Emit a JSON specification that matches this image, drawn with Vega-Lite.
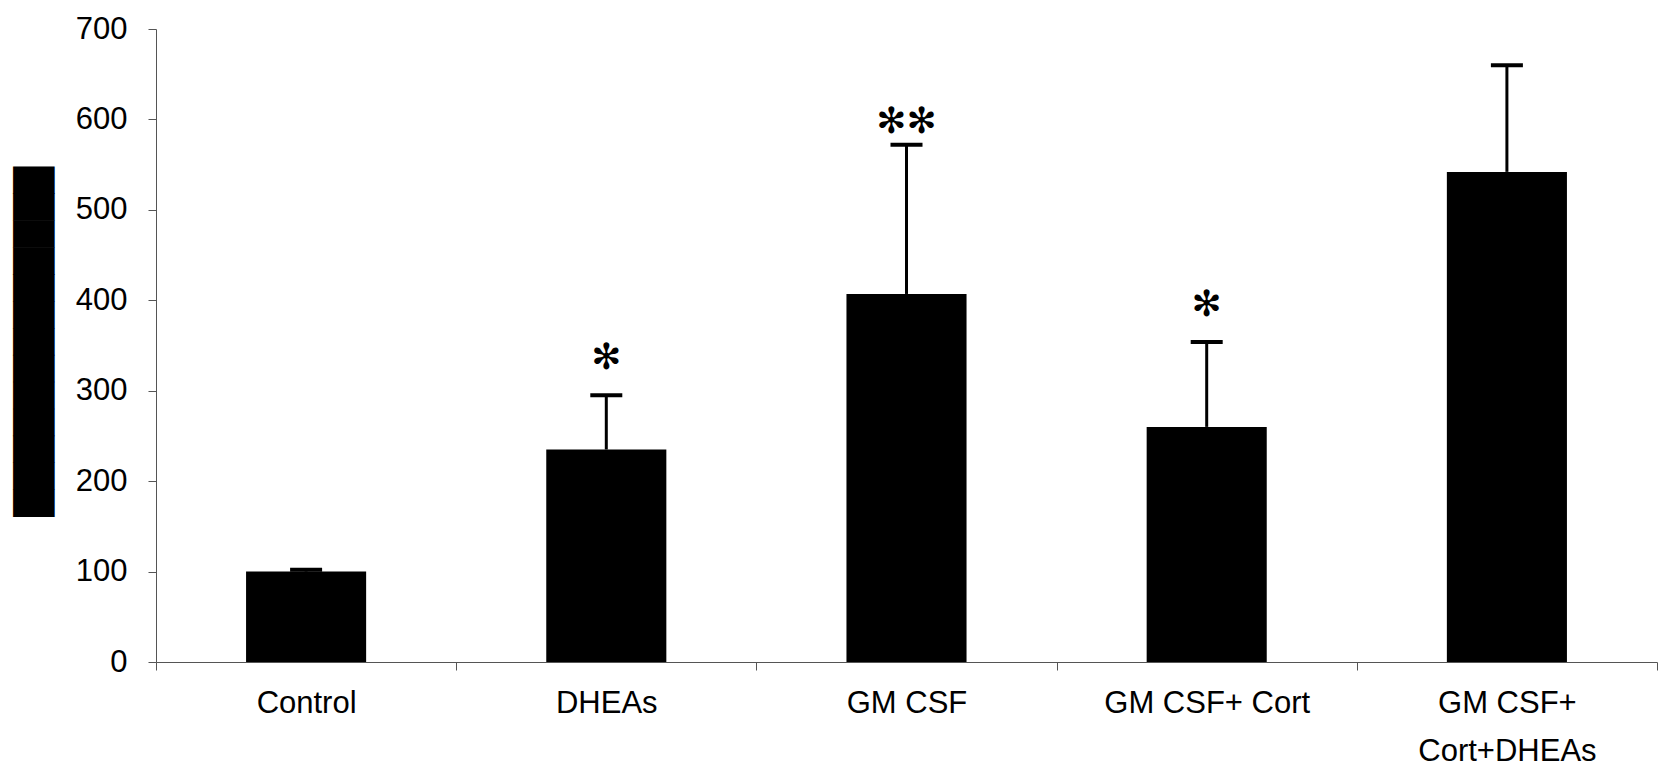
{
  "$schema": "https://vega.github.io/schema/vega-lite/v6.json",
  "autosize": {"type": "none"},
  "width": 1501,
  "height": 633,
  "padding": {"left": 156, "top": 29, "right": 3, "bottom": 110},
  "background": "white",
  "config": {
    "view": {"stroke": null},
    "font": "Liberation Sans"
  },
  "data": {
    "values": [
      {"group": "Control", "mean": 100, "err": 102, "sig": ""},
      {"group": "DHEAs", "mean": 235, "err": 295, "sig": "✻"},
      {"group": "GM CSF", "mean": 407, "err": 572, "sig": "✻✻"},
      {"group": "GM CSF+ Cort", "mean": 260, "err": 354, "sig": "✻"},
      {"group": "GM CSF+|Cort+DHEAs", "mean": 542, "err": 660, "sig": ""}
    ]
  },
  "encoding": {
    "x": {
      "field": "group",
      "type": "nominal",
      "sort": null,
      "scale": {"paddingInner": 0, "paddingOuter": 0},
      "axis": {
        "title": null,
        "labelAngle": 0,
        "labelFont": "Liberation Sans",
        "labelFontSize": 31,
        "labelColor": "black",
        "labelPadding": 18,
        "labelLineHeight": 48,
        "labelBaseline": "top",
        "labelLimit": 600,
        "labelExpr": "split(datum.label, '|')",
        "tickBand": "extent",
        "tickSize": 8,
        "tickColor": "#555",
        "domainColor": "#555",
        "domainWidth": 1,
        "tickWidth": 1
      }
    }
  },
  "layer": [
    {
      "mark": {"type": "bar", "color": "black", "width": {"band": 0.4}},
      "encoding": {
        "y": {
          "field": "mean",
          "type": "quantitative",
          "scale": {"domain": [0, 700], "nice": false},
          "axis": {
            "title": "█████████████",
            "titleFont": "DejaVu Sans",
            "titleFontSize": 35,
            "titleColor": "black",
            "titleBaseline": "middle",
            "titleX": -122,
            "titleY": 312,
            "titleLimit": 1000,
            "values": [0, 100, 200, 300, 400, 500, 600, 700],
            "grid": false,
            "labelFont": "Liberation Sans",
            "labelFontSize": 31,
            "labelColor": "black",
            "labelPadding": 21,
            "tickSize": 8,
            "tickColor": "#555",
            "domainColor": "#555",
            "domainWidth": 1,
            "tickWidth": 1
          }
        }
      }
    },
    {
      "mark": {"type": "rule", "color": "black", "strokeWidth": 3},
      "encoding": {
        "y": {"field": "mean", "type": "quantitative"},
        "y2": {"field": "err"}
      }
    },
    {
      "mark": {"type": "tick", "color": "black", "opacity": 1, "thickness": 4, "size": 32, "orient": "horizontal"},
      "encoding": {
        "y": {"field": "err", "type": "quantitative"}
      }
    },
    {
      "transform": [{"filter": "datum.sig == '✻'"}],
      "mark": {"type": "text", "color": "black", "font": "DejaVu Sans", "fontSize": 36, "baseline": "bottom", "dy": -18},
      "encoding": {
        "y": {"field": "err", "type": "quantitative"},
        "text": {"field": "sig"}
      }
    },
    {
      "transform": [{"filter": "datum.sig == '✻✻'"}],
      "mark": {"type": "text", "color": "black", "font": "DejaVu Sans", "fontSize": 36, "baseline": "bottom", "dy": -4},
      "encoding": {
        "y": {"field": "err", "type": "quantitative"},
        "text": {"field": "sig"}
      }
    }
  ]
}
